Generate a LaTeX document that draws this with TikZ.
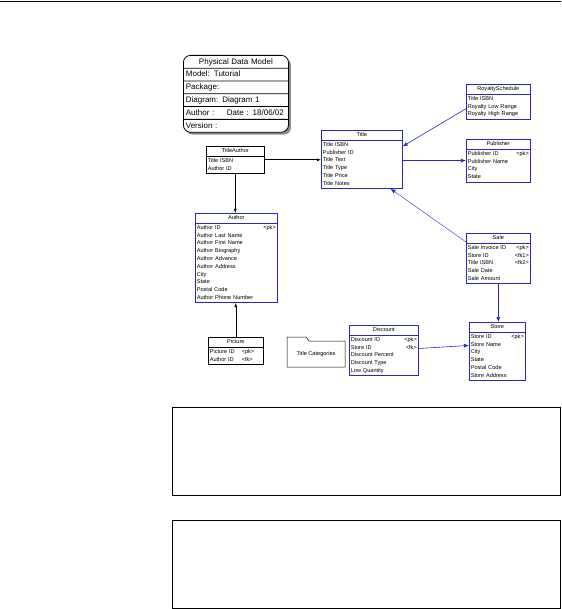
\documentclass[tikz,border=0pt]{standalone}
\usepackage{fontspec}
\setmainfont{Liberation Sans}
\usetikzlibrary{arrows.meta,shapes.multipart,shadows,positioning}

\definecolor{erblue}{RGB}{40,40,200}
\newcommand{\hd}[1]{\hfill#1\hfill\mbox{}}

\tikzset{
  entity/.style={rectangle split, rectangle split parts=2, draw=erblue, line width=0.6pt,
    fill=white, inner xsep=1.5pt, inner ysep=0.6pt, anchor=north west, align=left,
    font=\fontsize{5.6}{7.8}\selectfont},
  bentity/.style={entity, draw=black},
  infobox/.style={rectangle split, rectangle split parts=6, draw, line width=0.8pt,
    rounded corners=7pt, fill=white, inner xsep=2.5pt, inner ysep=0.35pt,
    anchor=north west, align=left, text width=100pt,
    font=\fontsize{8}{11.3}\selectfont,
    drop shadow={shadow xshift=2.5pt, shadow yshift=-2.5pt, fill=gray!90, opacity=1}},
  link/.style={erblue, line width=0.6pt, -{Latex[length=5pt,width=4pt]}},
  blink/.style={black, line width=0.6pt, -{Latex[length=4pt,width=3pt]}},
}

\begin{document}
\begin{tikzpicture}[x=1pt, y=-1pt]
  \useasboundingbox (0,0) rectangle (561,609);

  \draw[line width=1.2pt] (0,1.5) -- (561,1.5);

  % model header
  \node[infobox] (model) at (183,55) {\strut\hd{Physical Data Model}
    \nodepart{two}\strut Model: Tutorial
    \nodepart{three}\strut Package:
    \nodepart{four}\strut Diagram: Diagram 1
    \nodepart{five}\strut\makebox[41pt][l]{Author :}Date : 18/06/02
    \nodepart{six}\strut Version :};

  % tables
  \node[entity, text width=78pt] (title) at (321,130) {\strut\hd{Title}
    \nodepart{two}\strut Title ISBN\\ \strut Publisher ID\\ \strut Title Text\\
    \strut Title Type\\ \strut Title Price\\ \strut Title Notes};

  \node[bentity, text width=55pt] (titleauthor) at (206,146) {\strut\hd{TitleAuthor}
    \nodepart{two}\strut Title ISBN\\ \strut Author ID};

  \node[entity, text width=61pt] (royalty) at (466,84) {\strut\hd{RoyaltySchedule}
    \nodepart{two}\strut Title ISBN\\ \strut Royalty Low Range\\ \strut Royalty High Range};

  \node[entity, text width=61pt] (publisher) at (466,139) {\strut\hd{Publisher}
    \nodepart{two}\strut Publisher ID\hfill<pk>\\ \strut Publisher Name\\ \strut City\\
    \strut State};

  \node[entity, text width=79pt] (author) at (195,213) {\strut\hd{Author}
    \nodepart{two}\strut Author ID\hfill<pk>\\ \strut Author Last Name\\
    \strut Author First Name\\ \strut Author Biography\\ \strut Author Advance\\
    \strut Author Address\\ \strut City\\ \strut State\\ \strut Postal Code\\
    \strut Author Phone Number};

  \node[entity, text width=61pt] (sale) at (466,233) {\strut\hd{Sale}
    \nodepart{two}\strut Sale Invoice ID\hfill<pk>\\ \strut Store ID\hfill<fk1>\\
    \strut Title ISBN\hfill<fk2>\\ \strut Sale Date\\ \strut Sale Amount};

  \node[entity, text width=66pt] (discount) at (349,325) {\strut\hd{Discount}
    \nodepart{two}\strut Discount ID\hfill<pk>\\ \strut Store ID\hfill<fk>\\
    \strut Discount Percent\\ \strut Discount Type\\ \strut Low Quantity};

  \node[entity, text width=53pt] (store) at (469,322) {\strut\hd{Store}
    \nodepart{two}\strut Store ID\hfill<pk>\\ \strut Store Name\\ \strut City\\
    \strut State\\ \strut Postal Code\\ \strut Store Address};

  \node[bentity, text width=52pt] (picture) at (208,337) {\strut\hd{Picture}
    \nodepart{two}\strut\makebox[32pt][l]{Picture ID}<pk>\\
    \strut\makebox[32pt][l]{Author ID}<fk>};

  % package folder
  \draw[line width=0.5pt] (287,337) -- (306,337) -- (309,341) -- (345,341)
    -- (345,367) -- (287,367) -- cycle;
  \node[font=\fontsize{5.6}{7}\selectfont] (categories) at (316,354) {Title Categories};

  % references
  \draw[blink] (titleauthor.east) -- (titleauthor.east -| title.west);
  \draw[blink] (titleauthor.south) -- (titleauthor.south |- author.north);
  \draw[blink] (picture.north) -- (picture.north |- author.south);
  \draw[link] ([yshift=-7pt]royalty.west) -- ([yshift=13pt]title.east);
  \draw[link] (publisher.west -| title.east) -- (publisher.west);
  \draw[link, line width=0.4pt] ([yshift=-9pt]sale.north west) -- ([xshift=-12pt]title.south east);
  \draw[link] (sale.south) -- (sale.south |- store.north);
  \draw[link] ([yshift=2pt]discount.east) -- ([yshift=6pt]store.west);

  % note frames
  \draw[line width=0.8pt] (172,407) rectangle (560,495);
  \draw[line width=0.8pt] (172,520) rectangle (560,608);
\end{tikzpicture}
\end{document}
